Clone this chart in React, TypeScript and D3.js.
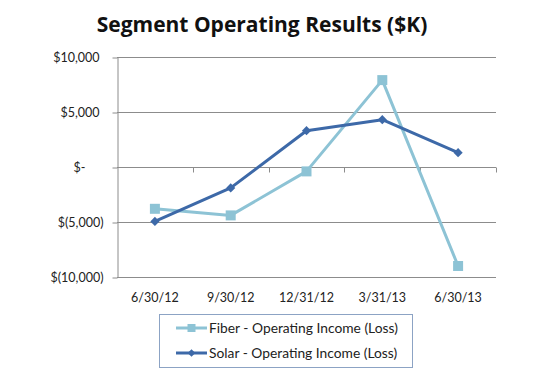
import * as d3 from "d3";
import { useEffect, useRef } from "react";

const quarters = ["6/30/12", "9/30/12", "12/31/12", "3/31/13", "6/30/13"];
const fiberIncome = [-3800, -4400, -400, 7900, -9000];
const solarIncome = [-4950, -1900, 3300, 4300, 1300];
const yTicks = [10000, 5000, 0, -5000, -10000];
const seriesNames = ["Fiber - Operating Income (Loss)", "Solar - Operating Income (Loss)"];

const FONT = "Lato, 'Open Sans', sans-serif";

function fmtAccounting(v: number) {
    if (v === 0) return "$-";
    const s = d3.format(",")(Math.abs(v));
    return v < 0 ? `$(${s})` : `$${s}`;
}

export default function App() {
    const ref = useRef<SVGSVGElement | null>(null);

    useEffect(() => {
        if (!ref.current) return;
        const width = 542;
        const height = 372;
        const margin = { top: 57, right: 46, bottom: 95, left: 117 };

        const svg = d3.select(ref.current);
        svg.selectAll("*").remove();

        svg.append("rect").attr("width", width).attr("height", height).attr("fill", "#ffffff");

        const x = d3
            .scaleBand()
            .domain(quarters)
            .range([margin.left, width - margin.right]);

        const y = d3
            .scaleLinear()
            .domain([-10000, 10000])
            .range([height - margin.bottom, margin.top]);

        const gridColor = "#8c8c8c";

        // Title
        svg
            .append("text")
            .attr("x", 262)
            .attr("y", 32)
            .attr("text-anchor", "middle")
            .attr("font-family", "'Open Sans', sans-serif")
            .attr("font-weight", "bold")
            .attr("font-size", 21)
            .attr("fill", "#111")
            .text("Segment Operating Results ($K)");

        // Gridlines
        svg
            .append("g")
            .selectAll("line")
            .data(yTicks)
            .join("line")
            .attr("x1", margin.left)
            .attr("x2", width - margin.right)
            .attr("y1", (d) => Math.round(y(d)) + 0.5)
            .attr("y2", (d) => Math.round(y(d)) + 0.5)
            .attr("stroke", gridColor)
            .attr("stroke-width", 1);

        // Y axis
        const yAxis = svg
            .append("g")
            .attr("transform", `translate(${margin.left + 0.5},0.5)`)
            .call(
                d3
                    .axisLeft(y)
                    .tickValues(yTicks)
                    .tickSize(5)
                    .tickSizeOuter(0)
                    .tickPadding(10)
                    .tickFormat((d) => fmtAccounting(+d))
            );
        yAxis.select(".domain").attr("stroke", gridColor);
        yAxis.selectAll(".tick line").attr("stroke", gridColor);
        yAxis
            .selectAll<SVGTextElement, number>(".tick text")
            .attr("font-family", FONT)
            .attr("font-size", 12.5)
            .attr("fill", "#222")
            .attr("dx", (d) => (d < 0 ? 1 : d === 0 ? -17 : -3));

        // X axis ticks along zero line
        svg
            .append("g")
            .attr("transform", `translate(0,${Math.round(y(0)) + 0.5})`)
            .selectAll("line")
            .data(quarters)
            .join("line")
            .attr("x1", (d) => Math.round(x(d)! + x.bandwidth()) + 0.5)
            .attr("x2", (d) => Math.round(x(d)! + x.bandwidth()) + 0.5)
            .attr("y1", 0)
            .attr("y2", 5)
            .attr("stroke", gridColor);

        svg
            .append("g")
            .selectAll("text")
            .data(quarters)
            .join("text")
            .attr("x", (d) => x(d)! + x.bandwidth() / 2)
            .attr("y", height - margin.bottom + 25)
            .attr("text-anchor", "middle")
            .attr("font-family", FONT)
            .attr("font-size", 12.5)
            .attr("fill", "#222")
            .text((d) => d);

        const fiberColor = "#8dc3d5";
        const solarColor = "#3d69a8";

        const cx = (i: number) => x(quarters[i])! + x.bandwidth() / 2;
        const line = d3
            .line<number>()
            .x((_, i) => cx(i))
            .y((d) => y(d));

        const square = d3.symbol().type(d3.symbolSquare).size(100);
        const diamond = d3.symbol().type(d3.symbolSquare).size(42);

        // Fiber
        svg
            .append("path")
            .datum(fiberIncome)
            .attr("d", line)
            .attr("fill", "none")
            .attr("stroke", fiberColor)
            .attr("stroke-width", 3)
            .attr("stroke-linejoin", "round");
        svg
            .append("g")
            .selectAll("path")
            .data(fiberIncome)
            .join("path")
            .attr("transform", (d, i) => `translate(${cx(i)},${y(d)})`)
            .attr("d", square)
            .attr("fill", fiberColor);

        // Solar
        svg
            .append("path")
            .datum(solarIncome)
            .attr("d", line)
            .attr("fill", "none")
            .attr("stroke", solarColor)
            .attr("stroke-width", 3)
            .attr("stroke-linejoin", "round");
        svg
            .append("g")
            .selectAll("path")
            .data(solarIncome)
            .join("path")
            .attr("transform", (d, i) => `translate(${cx(i)},${y(d)}) rotate(45)`)
            .attr("d", diamond)
            .attr("fill", solarColor);

        // Legend
        const legend = svg.append("g");
        legend
            .append("rect")
            .attr("x", 159.5)
            .attr("y", 314.5)
            .attr("width", 253)
            .attr("height", 53)
            .attr("fill", "#fff")
            .attr("stroke", "#8ca3c4");

        const colors = [fiberColor, solarColor];
        const markers = [
            { d: d3.symbol().type(d3.symbolSquare).size(64)(), rot: 0 },
            { d: d3.symbol().type(d3.symbolSquare).size(30)(), rot: 45 },
        ];
        seriesNames.forEach((name, i) => {
            const cy = 328 + i * 25;
            legend
                .append("line")
                .attr("x1", 176)
                .attr("x2", 207)
                .attr("y1", cy)
                .attr("y2", cy)
                .attr("stroke", colors[i])
                .attr("stroke-width", 3);
            legend
                .append("path")
                .attr("transform", `translate(191.5,${cy}) rotate(${markers[i].rot})`)
                .attr("d", markers[i].d)
                .attr("fill", colors[i]);
            legend
                .append("text")
                .attr("x", 209)
                .attr("y", cy + 4.5)
                .attr("font-family", FONT)
                .attr("font-size", 13.8)
                .attr("fill", "#222")
                .text(name);
        });
    }, []);

    return (
        <svg
            ref={ref}
            width={542}
            height={372}
            style={{ position: "absolute", left: 0, top: 0 }}
        ></svg>
    );
}
